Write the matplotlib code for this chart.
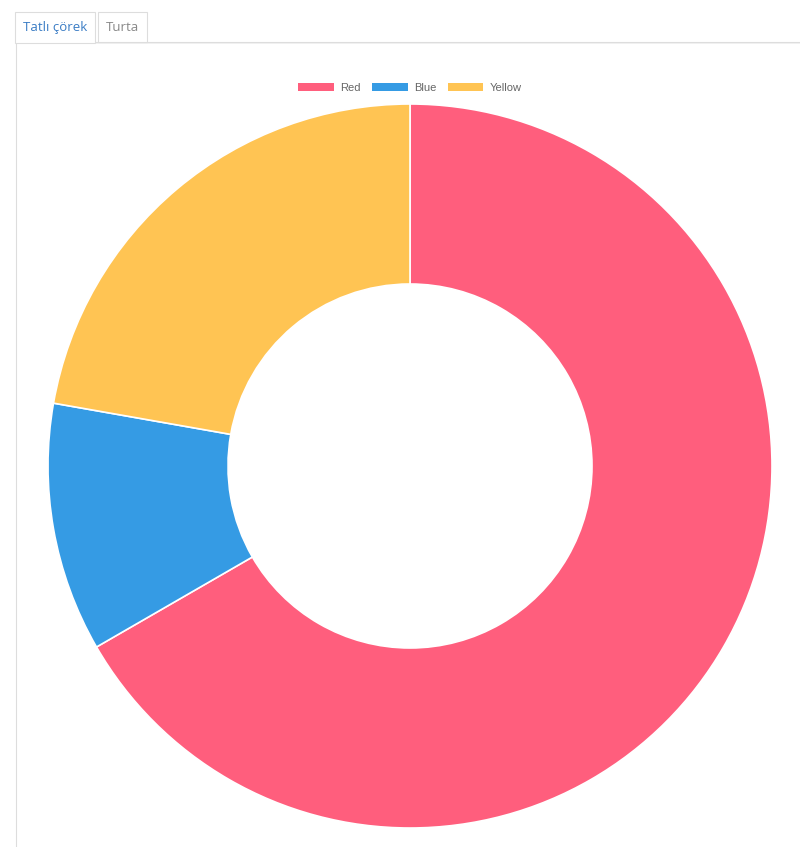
import matplotlib
matplotlib.use("Agg")
import matplotlib.pyplot as plt
from matplotlib.patches import Rectangle, Patch

labels = ["Red", "Blue", "Yellow"]
values = [300, 50, 100]
colors = ["#FF5E7D", "#359BE4", "#FFC453"]
tab_labels = ["Tatlı çörek", "Turta"]

W, H = 800, 847
fig = plt.figure(figsize=(W / 100, H / 100), dpi=100)
ax = fig.add_axes([0, 0, 1, 1])

# donut
wedges, _ = ax.pie(values, colors=colors, startangle=90, counterclock=False,
                   center=(410, H - 466), radius=362,
                   wedgeprops=dict(width=180, edgecolor="white", linewidth=1.2))
ax.set_xlim(0, W)
ax.set_ylim(0, H)
ax.set_aspect("equal")
ax.axis("off")

# panel + tabs
ax.plot([16, 16], [0, H - 42], color="#dddddd", lw=0.8)
ax.plot([16, W], [H - 42, H - 42], color="#dddddd", lw=0.8)
ax.plot([95, W], [H - 43, H - 43], color="#eeeeee", lw=0.6)
ax.add_patch(Rectangle((15, H - 43), 80, 31, facecolor="white",
                       edgecolor="#dddddd", lw=0.8, zorder=3))
ax.add_patch(Rectangle((98, H - 42), 49, 30, facecolor="white",
                       edgecolor="#dddddd", lw=0.8, zorder=3))
ax.text(55, H - 27, tab_labels[0], ha="center", va="center", fontsize=9.5,
        color="#3a7cc4", family="Open Sans", zorder=4)
ax.text(122, H - 27, tab_labels[1], ha="center", va="center", fontsize=9.5,
        color="#888888", family="Open Sans", zorder=4)

handles = [Patch(facecolor=c, edgecolor="none") for c in colors]
leg = fig.legend(handles, labels, ncol=3, loc="center",
                 bbox_to_anchor=(410 / W, 1 - 88 / H), frameon=False,
                 prop=dict(family="Liberation Sans", size=8),
                 handlelength=3.2, handleheight=0.8, handletextpad=0.6,
                 columnspacing=1.0)
for t in leg.get_texts():
    t.set_color("#666666")

fig.savefig("out.png", dpi=100, facecolor="white")
